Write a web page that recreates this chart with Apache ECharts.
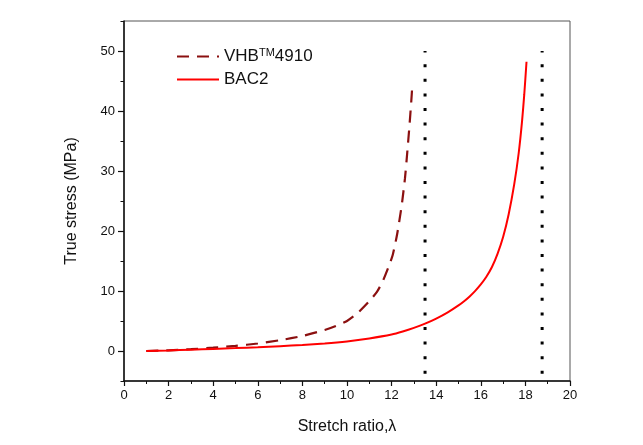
<!DOCTYPE html>
<html><head><meta charset="utf-8">
<script src="https://cdn.jsdelivr.net/npm/echarts@6/dist/echarts.min.js"></script>
<style>html,body{margin:0;padding:0;background:#fff}#c{width:643px;height:445px}</style>
</head><body><div id="c"></div>
<script>
// Data
const vhbStretch = [1, 2, 3, 4, 5, 6, 7, 8, 9, 9.5, 10, 10.5, 11, 11.35, 11.6, 11.85, 12.05, 12.25, 12.45, 12.6, 12.7, 12.8, 12.88, 12.93];
const vhbStress  = [0, 0.12, 0.3, 0.55, 0.85, 1.25, 1.8, 2.5, 3.5, 4.15, 5.0, 6.4, 8.3, 9.9, 11.6, 13.9, 16.0, 19.5, 24.2, 28.8, 33.0, 37.5, 41.5, 44.3];
const bacStretch = [1, 2, 3, 4, 5, 6, 7, 8, 9, 10, 11, 12, 12.5, 13, 13.5, 14, 14.5, 15, 15.25, 15.5, 15.75, 16, 16.25, 16.5, 16.75, 17, 17.25, 17.5, 17.7, 17.85, 17.95, 18.05];
const bacStress  = [0, 0.1, 0.22, 0.35, 0.48, 0.62, 0.8, 1.0, 1.25, 1.6, 2.1, 2.75, 3.25, 3.85, 4.55, 5.4, 6.4, 7.6, 8.3, 9.1, 10.03, 11.1, 12.38, 14.0, 16.2, 19.0, 22.8, 27.8, 33, 38.3, 42.8, 48.2];
const limitStretch = [13.5, 18.75];
const limitStressRange = [-3.8, 50];
const xTicks = [0, 2, 4, 6, 8, 10, 12, 14, 16, 18, 20];
const yTicks = [0, 10, 20, 30, 40, 50];

const zip = (a, b) => a.map((v, i) => [v, b[i]]);
const font = '"Liberation Sans", Arial, sans-serif';
const chart = echarts.init(document.getElementById('c'));

const limitSeries = limitStretch.map((x, i) => ({
  name: 'limit' + i, type: 'line', symbol: 'none', silent: true,
  data: limitStressRange.map(y => [x, y]),
  lineStyle: { color: '#000', width: 3, type: [3, 11.6], cap: 'butt' },
  z: 3
}));

chart.setOption({
  animation: false,
  backgroundColor: '#fff',
  textStyle: { fontFamily: font },
  grid: { left: 124, right: 73, top: 21, bottom: 64, show: true, borderColor: '#555', borderWidth: 1, backgroundColor: 'transparent' },
  legend: {
    data: ['VHB4910', 'BAC2'],
    orient: 'vertical', left: 171, top: 42, itemGap: 6, itemWidth: 42, itemHeight: 14, itemTextGap: 5,
    itemStyle: { opacity: 0 },
    formatter: n => n === 'VHB4910' ? '{n|VHB}{s|TM}{n|4910}' : '{n|BAC2}',
    textStyle: {
      fontFamily: font, color: '#111',
      rich: {
        n: { fontSize: 17, fontFamily: font, color: '#111' },
        s: { fontSize: 11, fontFamily: font, color: '#111', padding: [0, 0, 8, 0] }
      }
    }
  },
  xAxis: {
    type: 'value', min: 0, max: 20, interval: 2,
    name: 'Stretch ratio,λ', nameLocation: 'middle', nameGap: 38,
    nameTextStyle: { fontSize: 16, color: '#111', fontFamily: font },
    axisLine: { show: true, onZero: false, lineStyle: { color: '#111', width: 1.5 } },
    axisTick: { show: true, inside: false, length: 5, lineStyle: { color: '#111', width: 1.2 } },
    minorTick: { show: true, splitNumber: 2, length: 3, lineStyle: { color: '#111', width: 1 } },
    axisLabel: { customValues: xTicks, fontSize: 13, color: '#111', margin: 8, fontFamily: font },
    splitLine: { show: false }
  },
  yAxis: [{
    type: 'value', min: -5, max: 55,
    name: 'True stress (MPa)', nameLocation: 'middle', nameGap: 44,
    nameTextStyle: { fontSize: 16, color: '#111', fontFamily: font },
    axisLine: { show: true, onZero: false, lineStyle: { color: '#111', width: 1.5 } },
    axisTick: { show: true, customValues: yTicks, length: 6, lineStyle: { color: '#111', width: 1.2 } },
    axisLabel: { customValues: yTicks, fontSize: 13, color: '#111', margin: 9, fontFamily: font },
    splitLine: { show: false }
  }, {
    type: 'value', min: -5, max: 55, interval: 5, position: 'left',
    axisLine: { show: false },
    axisTick: { show: true, length: 3.5, lineStyle: { color: '#111', width: 1 } },
    axisLabel: { show: false },
    splitLine: { show: false }
  }],
  series: [
    {
      name: 'VHB4910', type: 'line', symbol: 'none', smooth: 0.2,
      data: zip(vhbStretch, vhbStress),
      itemStyle: { color: '#8b1010' },
      lineStyle: { color: '#8b1010', width: 2.2, type: [12, 8] }, z: 4
    },
    {
      name: 'BAC2', type: 'line', symbol: 'none', smooth: 0.2,
      data: zip(bacStretch, bacStress),
      itemStyle: { color: '#ff0000' },
      lineStyle: { color: '#ff0000', width: 2 }, z: 5
    },
    ...limitSeries
  ]
});
</script></body></html>
